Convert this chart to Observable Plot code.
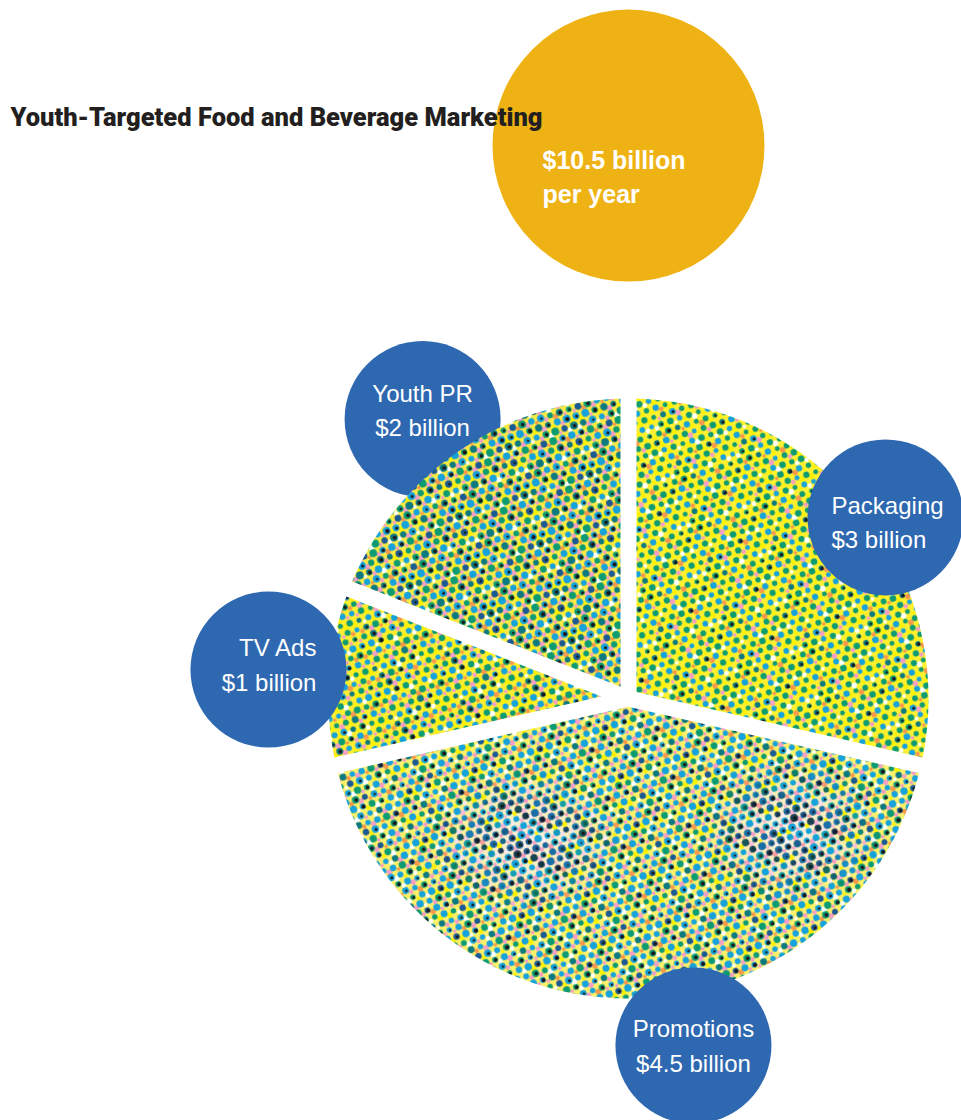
<!DOCTYPE html>
<html>
<head>
<meta charset="utf-8">
<script src="https://cdn.jsdelivr.net/npm/d3@7"></script>
<script src="https://cdn.jsdelivr.net/npm/@observablehq/plot@0.6"></script>
<style>
  html, body { margin: 0; padding: 0; background: #ffffff; }
  #chart { width: 961px; height: 1120px; overflow: hidden; }
  svg { display: block; }
</style>
</head>
<body>
<div id="chart"></div>
<script>
// ---------- data ----------
const titleText = "Youth-Targeted Food and Beverage Marketing";
const categories = ["Packaging", "Promotions", "TV Ads", "Youth PR"];
const values = [3, 4.5, 1, 2];               // $ billion per year
const valueLabels = ["$3 billion", "$4.5 billion", "$1 billion", "$2 billion"];
const totalLines = ["$10.5 billion", "per year"];

// ---------- layout / style (not data) ----------
const W = 961, H = 1120;
const R = 300;                 // pie radius, px
const CX = 628, CY = 698;      // pie centre, px
const gapPx = 16;              // white gap between slices
const labelAngleNudge = [3.4, -10.6, 0.3, -2.1];   // degrees from slice mid-angle
const labelDist = [1.048, 1.177, 1.204, 1.157];    // bubble distance, in pie radii
const labelAnchor = ["start", "middle", "end", "middle"];
const labelDx = [-54, 0, 48, 0];
const labelDy = [3, -2, -7, -11];
const labelUnder = [false, false, false, true];    // drawn beneath the pie
const totalPos = {angle: 0, dist: 1.843};
const bubbleR = 78, totalR = 136;
const BLUE = "#2E68B0", GOLD = "#EFB214", INK = "#231F20";
const FONT = "'Liberation Sans', Arial, sans-serif";
// darker ink areas printed inside the Promotions slice (pie units)
const shadeSlice = "Promotions";
const shadeBlobs = [
  {x: -0.34, y: 0.47, rx: 0.32, ry: 0.24},
  {x: 0.54, y: 0.44, rx: 0.30, ry: 0.24}
];

// halftone texture styles per slice
const screens = {
  "Packaging":  {bg: "#FFF030", dots: "GGCGTGCGGCG", core: 0.15, inter: "ypwoyy", dotR: 2.9},
  "Promotions": {bg: "#FDF06A", dots: "CCGCBCTCGCG", core: 0.35, inter: "pwpoyw", dotR: 3.2},
  "TV Ads":     {bg: "#FFEE30", dots: "GCGTCGGCGCT", core: 0.25, inter: "pwoyyp", dotR: 3.0},
  "Youth PR":   {bg: "#FCEB45", dots: "GCTGCBGCTCG", core: 0.5,  inter: "ppwoyp", dotR: 3.4},
  "shade":      {bg: "#F7EEE8", dots: "CBCKBCB", core: 0.7,  inter: "ppwpyp", dotR: 3.5}
};
const dotColors = {C: "#13A2DA", G: "#109C72", T: "#0E7A80", B: "#1E5A93", K: "#1F2A48"};
const interColors = {p: "#F5A0C5", w: "#FFFFFF", o: "#F79A4C", y: "#FFF200"};

// ---------- geometry from data ----------
const total = d3.sum(values);
let acc = 0;
const slices = categories.map((cat, i) => {
  const a0 = acc / total * 2 * Math.PI;
  acc += values[i];
  const a1 = acc / total * 2 * Math.PI;
  return {cat, i, a0, a1, mid: (a0 + a1) / 2};
});
const half = gapPx / 2 / R;
const slicePts = slices.flatMap(s => {
  const th = s.a1 - s.a0;
  const di = half / Math.sin(th / 2);
  const pts = [{cat: s.cat, x: di * Math.sin(s.mid), y: -di * Math.cos(s.mid)}];
  const b0 = s.a0 + Math.asin(half), b1 = s.a1 - Math.asin(half);
  const n = Math.ceil((b1 - b0) / (Math.PI / 360));
  for (let k = 0; k <= n; ++k) {
    const a = b0 + (b1 - b0) * k / n;
    pts.push({cat: s.cat, x: Math.sin(a), y: -Math.cos(a)});
  }
  return pts;
});
const labels = slices.map(s => {
  const a = s.mid + labelAngleNudge[s.i] * Math.PI / 180;
  const d = labelDist[s.i];
  return {cat: s.cat, i: s.i, x: d * Math.sin(a), y: -d * Math.cos(a),
          text: s.cat + "\n" + valueLabels[s.i]};
});
const totalDatum = [{x: totalPos.dist * Math.sin(totalPos.angle), y: -totalPos.dist * Math.cos(totalPos.angle),
                     text: totalLines.join("\n")}];

// ---------- marks ----------
const pieMarks = slices.map(s => Plot.line(slicePts.filter(p => p.cat === s.cat), {
  x: "x", y: "y", curve: "linear-closed",
  fill: `url(#screen-${s.cat.replace(/\W/g, "")})`, stroke: "none"
}));
// darker overprint for the Promotions slice (masked later)
pieMarks.push(Plot.line(slicePts.filter(p => p.cat === shadeSlice), {
  x: "x", y: "y", curve: "linear-closed",
  fill: "url(#screen-shade)", stroke: "none", className: "shade-layer"
}));

function labelMarks(under) {
  const L = labels.filter(d => labelUnder[d.i] === under);
  const out = [Plot.dot(L, {x: "x", y: "y", r: bubbleR, fill: BLUE, stroke: "none"})];
  for (const d of L) {
    out.push(Plot.text([d], {
      x: "x", y: "y", text: "text", textAnchor: labelAnchor[d.i], lineAnchor: "middle",
      dx: labelDx[d.i], dy: labelDy[d.i],
      fill: "white", fontSize: 24, lineHeight: 1.42, fontFamily: FONT
    }));
  }
  return out;
}

const chart = Plot.plot({
  width: W, height: H,
  margin: 0, marginTop: 0, marginRight: 0, marginBottom: 0, marginLeft: 0,
  x: {domain: [-CX / R, (W - CX) / R], range: [0, W], axis: null},
  y: {domain: [-CY / R, (H - CY) / R], range: [0, H], axis: null},
  style: {background: "white", overflow: "visible"},
  marks: [
    Plot.dot(totalDatum, {x: "x", y: "y", r: totalR, fill: GOLD, stroke: "none"}),
    Plot.text(totalDatum, {x: "x", y: "y", text: "text", textAnchor: "start", lineAnchor: "middle",
      dx: -86, dy: 30, lineHeight: 1.36, fill: "white", fontSize: 25, fontWeight: "bold", fontFamily: FONT}),
    Plot.text([titleText], {text: d => d, frameAnchor: "top-left", dx: 10, dy: 107, lineAnchor: "top",
      textAnchor: "start", fill: INK, fontSize: 25.5, fontWeight: 900,
      fontFamily: "Roboto, 'Liberation Sans', Arial, sans-serif"}),
    ...labelMarks(true),
    ...pieMarks,
    ...labelMarks(false)
  ]
});

// ---------- halftone screens ----------
const a = 9.8, h = a * Math.sqrt(3) / 2, cols = 7, rows = 6;
const TW = a * cols, TH = h * rows;
function wrapped(x, y, r, fill) {
  let s = "";
  for (const ox of [-TW, 0, TW]) for (const oy of [-TH, 0, TH]) {
    const cx = x + ox, cy = y + oy;
    if (cx + r < 0 || cx - r > TW || cy + r < 0 || cy - r > TH) continue;
    s += `<circle cx="${cx.toFixed(2)}" cy="${cy.toFixed(2)}" r="${r}" fill="${fill}"/>`;
  }
  return s;
}
let defs = `<defs><filter id="soft" x="-10%" y="-10%" width="120%" height="120%"><feGaussianBlur stdDeviation="0.55"/></filter>`;
for (const [name, sc] of Object.entries(screens)) {
  let inter = "", dots = "", cores = "";
  let n = 0;
  for (let r = 0; r < rows; ++r) {
    for (let c = 0; c < cols; ++c, ++n) {
      const x = c * a + (r % 2 ? a / 2 : 0) + a / 4;
      const y = r * h + h / 2;
      const dc = dotColors[sc.dots[(n * 5 + r * 2) % sc.dots.length]];
      const rad = sc.dotR * (0.85 + 0.3 * (((n * 7 + r * 3) % 5) / 4));
      dots += wrapped(x, y, rad.toFixed(2), dc);
      if (((n * 11 + r * 5) % 20) / 20 < sc.core) cores += wrapped(x + 0.6, y + 0.4, (1.2 + ((n * 3) % 4) * 0.3).toFixed(2), "#15171C");
      const ic = interColors[sc.inter[(n * 3 + r) % sc.inter.length]];
      inter += wrapped(x + a / 2, y + h / 3, (1.8 + ((n + r) % 3) * 0.5).toFixed(2), ic);
    }
  }
  defs += `<pattern id="screen-${name.replace(/\W/g, "")}" patternUnits="userSpaceOnUse" width="${TW.toFixed(3)}" height="${TH.toFixed(3)}" patternTransform="rotate(-18)">` +
    `<rect width="${TW.toFixed(3)}" height="${TH.toFixed(3)}" fill="${sc.bg}"/>` +
    `<g filter="url(#soft)">${inter}${dots}${cores}</g></pattern>`;
}
// soft-edged mask for the darker areas, placed through the chart's scales
const sx = chart.scale("x"), sy = chart.scale("y");
const pxPerUnit = sx.apply(1) - sx.apply(0);
defs += `<radialGradient id="blobgrad"><stop offset="0" stop-color="white" stop-opacity="0.95"/><stop offset="0.5" stop-color="white" stop-opacity="0.65"/><stop offset="1" stop-color="white" stop-opacity="0"/></radialGradient>`;
defs += `<mask id="shademask" maskUnits="userSpaceOnUse" x="0" y="0" width="${W}" height="${H}">` +
  shadeBlobs.map(b => `<ellipse cx="${sx.apply(b.x)}" cy="${sy.apply(b.y)}" rx="${b.rx * pxPerUnit}" ry="${b.ry * pxPerUnit}" fill="url(#blobgrad)"/>`).join("") +
  `</mask>`;
defs += "</defs>";
chart.insertAdjacentHTML("afterbegin", defs);
chart.querySelectorAll(".shade-layer").forEach(el => el.setAttribute("mask", "url(#shademask)"));
document.getElementById("chart").appendChild(chart);
</script>
</body>
</html>
